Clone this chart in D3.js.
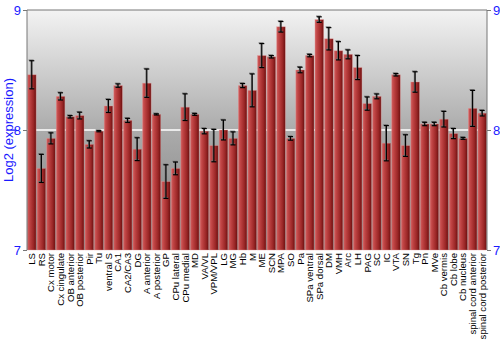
<!DOCTYPE html>
<html>
<head>
  <meta charset="UTF-8">
  <title>Log2 expression by region</title>
  <script src="https://d3js.org/d3.v7.min.js"></script>
  <style>
    body { margin: 0; background: #fff; }
    svg text { font-family: "Liberation Sans", Arial, sans-serif; }
  </style>
</head>
<body>
<div id="chart"></div>
<script>
  var regions = ['LS', 'RS', 'Cx motor', 'Cx cingulate', 'OB anterior', 'OB posterior', 'Pir', 'Tu',
    'ventral S', 'CA1', 'CA2/CA3', 'DG', 'A anterior', 'A posterior', 'GP', 'CPu lateral', 'CPu medial',
    'MD', 'VA/VL', 'VPM/VPL', 'LG', 'MG', 'Hb', 'M', 'ME', 'SCN', 'MPA', 'SO', 'Pa', 'SPa ventral',
    'SPa dorsal', 'DM', 'VMH', 'Arc', 'LH', 'PAG', 'SC', 'IC', 'VTA', 'SN', 'Tg', 'Pn', 'MVe',
    'Cb vermis', 'Cb lobe', 'Cb nucleus', 'spinal cord anterior', 'spinal cord posterior'];
  var expression = [8.46, 7.68, 7.93, 8.28, 8.11, 8.12, 7.88, 7.99,
    8.20, 8.37, 8.08, 7.84, 8.39, 8.13, 7.57, 7.68, 8.19,
    8.13, 7.99, 7.87, 8.00, 7.93, 8.37, 8.33, 8.62, 8.61, 8.86, 7.93, 8.50, 8.62,
    8.92, 8.76, 8.66, 8.63, 8.52, 8.22, 8.28, 7.89, 8.46, 7.87, 8.40, 8.05, 8.05,
    8.09, 7.97, 7.93, 8.18, 8.14];
  var stdErr = [0.117, 0.117, 0.046, 0.03, 0.01, 0.028, 0.03, 0.005,
    0.054, 0.014, 0.017, 0.095, 0.118, 0.005, 0.14, 0.053, 0.111,
    0.008, 0.022, 0.135, 0.083, 0.054, 0.017, 0.137, 0.1, 0.01, 0.044, 0.015, 0.023, 0.01,
    0.023, 0.093, 0.076, 0.037, 0.1, 0.055, 0.02, 0.147, 0.01, 0.09, 0.085, 0.014, 0.014,
    0.065, 0.042, 0.008, 0.15, 0.023];
  var yTicks = [7, 8, 9];

  var width = 500, height = 350;
  var margin = { top: 10, right: 13, bottom: 100, left: 27 };
  var plotW = width - margin.left - margin.right;
  var plotH = height - margin.top - margin.bottom;

  var svg = d3.select('#chart').append('svg')
    .attr('width', width)
    .attr('height', height);

  var defs = svg.append('defs');
  var bg = defs.append('linearGradient').attr('id', 'bg')
    .attr('x1', 0).attr('y1', 0).attr('x2', 0).attr('y2', 1);
  bg.append('stop').attr('offset', '0%').attr('stop-color', '#f3f3f3');
  bg.append('stop').attr('offset', '50%').attr('stop-color', '#ababab');
  bg.append('stop').attr('offset', '100%').attr('stop-color', '#7e7e7e');

  var barGrad = defs.append('linearGradient').attr('id', 'bar')
    .attr('x1', 0).attr('y1', 0).attr('x2', 1).attr('y2', 0);
  barGrad.append('stop').attr('offset', '0%').attr('stop-color', '#d06060');
  barGrad.append('stop').attr('offset', '25%').attr('stop-color', '#c04444');
  barGrad.append('stop').attr('offset', '70%').attr('stop-color', '#9a2626');
  barGrad.append('stop').attr('offset', '100%').attr('stop-color', '#6a1010');

  var g = svg.append('g')
    .attr('transform', 'translate(' + margin.left + ',' + margin.top + ')');

  var x = d3.scaleBand()
    .domain(regions)
    .range([0, plotW])
    .paddingInner(0.1)
    .paddingOuter(0.05);

  var y = d3.scaleLinear()
    .domain([7, 9])
    .range([plotH, 0]);

  // background
  g.append('rect')
    .attr('width', plotW)
    .attr('height', plotH)
    .attr('fill', 'url(#bg)');

  // grid line at 8
  g.append('line')
    .attr('x1', 0).attr('x2', plotW)
    .attr('y1', y(8)).attr('y2', y(8))
    .attr('stroke', '#ffffff')
    .attr('stroke-width', 1.5);

  // bars
  var bars = g.selectAll('.bar')
    .data(regions)
    .enter().append('g')
    .attr('class', 'bar');

  bars.append('rect')
    .attr('x', d => x(d))
    .attr('y', (d, i) => y(expression[i]))
    .attr('width', x.bandwidth())
    .attr('height', (d, i) => plotH - y(expression[i]))
    .attr('fill', 'url(#bar)')
    .attr('stroke', 'rgba(230,150,150,0.6)')
    .attr('stroke-width', 0.6);

  // error bars: gray shadow then black
  [['#777', -0.7, -0.7], ['#000', 0, 0]].forEach(function (s) {
    var eb = bars.append('g')
      .attr('transform', 'translate(' + s[1] + ',' + s[2] + ')')
      .attr('stroke', s[0])
      .attr('stroke-width', 1.2);
    eb.append('line')
      .attr('x1', d => x(d) + x.bandwidth() / 2)
      .attr('x2', d => x(d) + x.bandwidth() / 2)
      .attr('y1', (d, i) => y(expression[i] + stdErr[i]))
      .attr('y2', (d, i) => y(expression[i] - stdErr[i]));
    eb.append('line')
      .attr('x1', d => x(d) + x.bandwidth() / 2 - 2.5)
      .attr('x2', d => x(d) + x.bandwidth() / 2 + 2.5)
      .attr('y1', (d, i) => y(expression[i] + stdErr[i]))
      .attr('y2', (d, i) => y(expression[i] + stdErr[i]));
    eb.append('line')
      .attr('x1', d => x(d) + x.bandwidth() / 2 - 2.5)
      .attr('x2', d => x(d) + x.bandwidth() / 2 + 2.5)
      .attr('y1', (d, i) => y(expression[i] - stdErr[i]))
      .attr('y2', (d, i) => y(expression[i] - stdErr[i]));
  });

  // frame
  g.append('path')
    .attr('d', 'M0,' + plotH + 'V0H' + plotW + 'V' + plotH)
    .attr('fill', 'none')
    .attr('stroke', '#777')
    .attr('stroke-width', 1);

  // axes
  var yLeft = g.append('g')
    .call(d3.axisLeft(y).tickValues(yTicks).tickFormat(d3.format('d')).tickSize(4).tickPadding(2));
  var yRight = g.append('g')
    .attr('transform', 'translate(' + plotW + ',0)')
    .call(d3.axisRight(y).tickValues(yTicks).tickFormat(d3.format('d')).tickSize(4).tickPadding(2));
  [yLeft, yRight].forEach(function (ax) {
    ax.select('.domain').remove();
    ax.selectAll('line').attr('stroke', '#777');
    ax.selectAll('text')
      .attr('fill', '#1a1aff')
      .style('font-size', '13px');
  });

  var xAxis = g.append('g')
    .attr('transform', 'translate(0,' + plotH + ')')
    .call(d3.axisBottom(x).tickSize(0).tickPadding(3));
  xAxis.select('.domain').remove();
  xAxis.selectAll('text')
    .attr('fill', '#000')
    .style('font-size', '9.6px')
    .style('text-anchor', 'end')
    .attr('dx', '-3px')
    .attr('dy', '0.35em')
    .attr('x', 0).attr('y', 0)
    .attr('transform', 'rotate(-90)');

  // y title
  svg.append('text')
    .attr('transform', 'translate(13,' + (margin.top + plotH / 2) + ') rotate(-90)')
    .attr('text-anchor', 'middle')
    .attr('fill', '#1a1aff')
    .style('font-size', '13px')
    .text('Log2 (expression)');
</script>
</body>
</html>
